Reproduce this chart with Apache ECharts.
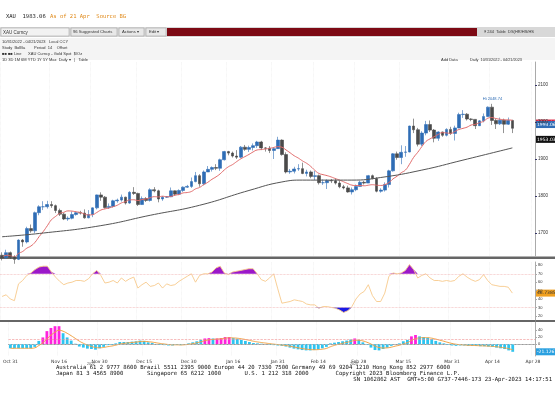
<!DOCTYPE html>
<html><head><meta charset="utf-8">
<script src="https://cdn.jsdelivr.net/npm/echarts@6/dist/echarts.min.js"></script>
<style>html,body{margin:0;padding:0;background:#fff}#c{width:555px;height:400px}</style>
</head><body><div id="c"></div>
<script>
const closes=[1633,1647,1635,1629,1681,1676,1712,1706,1755,1771,1771,1777,1774,1761,1751,1738,1740,1750,1755,1754,1741,1750,1768,1803,1797,1769,1772,1787,1789,1797,1781,1810,1807,1777,1793,1788,1817,1814,1792,1797,1798,1814,1805,1815,1824,1826,1839,1855,1833,1865,1872,1877,1875,1898,1920,1916,1908,1905,1932,1926,1931,1936,1946,1930,1929,1923,1928,1951,1912,1865,1867,1873,1874,1861,1865,1853,1855,1836,1836,1842,1841,1835,1825,1822,1811,1817,1826,1837,1835,1855,1847,1813,1816,1831,1868,1914,1904,1918,1919,1989,1979,1940,1970,1993,1978,1956,1973,1964,1980,1969,1984,2020,2021,2008,2007,1990,2003,2015,2040,2004,1995,2005,1994,2004,1983];
const highs=[1648,1655,1650,1640,1683,1684,1717,1723,1758,1775,1786,1787,1786,1777,1766,1754,1745,1758,1758,1760,1764,1762,1769,1804,1810,1800,1780,1790,1793,1804,1798,1813,1824,1809,1799,1797,1821,1824,1817,1800,1800,1823,1815,1818,1826,1830,1850,1865,1859,1869,1881,1880,1886,1901,1922,1922,1920,1924,1935,1938,1936,1942,1949,1949,1932,1935,1932,1960,1953,1918,1873,1879,1886,1890,1871,1869,1868,1858,1845,1845,1846,1848,1841,1830,1828,1823,1831,1841,1841,1857,1858,1851,1821,1837,1871,1916,1920,1937,1935,1990,2009,1984,1975,2003,2004,1981,1975,1974,1983,1987,1990,2025,2032,2024,2010,2008,2005,2023,2042,2049,2008,2012,2009,2012,2006];
const lows=[1626,1630,1630,1617,1627,1663,1672,1701,1700,1748,1762,1766,1768,1754,1746,1735,1733,1737,1747,1750,1739,1740,1743,1764,1787,1766,1765,1769,1782,1785,1777,1779,1803,1773,1776,1784,1785,1810,1783,1787,1795,1797,1801,1802,1811,1822,1822,1837,1825,1829,1865,1866,1870,1868,1896,1910,1904,1900,1902,1922,1919,1923,1930,1924,1920,1916,1900,1927,1909,1861,1860,1861,1868,1859,1853,1848,1843,1831,1830,1819,1835,1831,1821,1818,1809,1804,1813,1826,1831,1835,1845,1810,1809,1812,1823,1866,1898,1886,1906,1918,1970,1934,1935,1964,1973,1945,1949,1960,1961,1965,1950,1983,2011,2004,2002,1981,1989,1999,2013,1992,1981,1992,1970,1992,1970];
const firstOpen=1640;
const longMA={0:1690,10:1700,24:1720,36:1748,48:1775,60:1815,68:1838,73:1843,85:1843,92:1850,102:1870,112:1897,124:1930};
const rsiVals=[43,45,40,38,58,62,68,71,75,78,79,79,72,66,61,57,59,60,62,62,61,64,70,74,68,59,60,62,59,65,61,64,66,53,57,60,55,56,59,53,58,56,57,61,64,67,70,60,68,70,70,72,77,79,71,69,72,73,74,75,76,76,70,63,61,65,70,52,35,36,37,39,38,37,34,33,33,29,31,31,30,29,27,24,26,31,40,46,49,57,44,37,37,47,67,71,70,71,74,81,75,65,68,70,65,62,62,61,62,61,62,67,70,66,63,61,63,69,62,57,56,55,55,54,47];
const oscVals=[-12,-12,-12,-12,-12,-12,-8,9,19,37,46,51,51,31,19,10,1,-7,-10,-13,-14,-16,-12,-8,-3,-2,2,6,6,6,7,8,10,9,5,3,0,-2,-3,-4,-4,-2,-3,-1,2,5,8,12,16,17,16,16,17,20,20,17,15,12,9,6,3,2,1,0,-2,-3,-4,-5,-7,-10,-13,-15,-17,-18,-18,-17,-15,-12,-8,2,4,6,8,10,13,16,12,5,-2,-10,-17,-18,-14,-10,-5,0,2,8,12,22,26,22,20,18,14,9,5,2,-2,-4,-5,-4,-4,-5,-5,-5,-6,-6,-7,-8,-10,-12,-14,-18,-22];
const tickDates=['Oct 31','Nov 16','Nov 30','Dec 15','Dec 30','Jan 16','Jan 31','Feb 14','Feb 28','Mar 15','Mar 31','Apr 14','Apr 28'];
const priceTicks=[1700,1800,1900,2000,2100];
const rsiTicks=[20,30,40,50,60,70,80];
const oscTicks=[0,20,40];

const M=['Jan','Feb','Mar','Apr','May','Jun','Jul','Aug','Sep','Oct','Nov','Dec'];
const cats=[];
for(let d=new Date(Date.UTC(2022,9,31));d<=new Date(Date.UTC(2023,3,28));d.setUTCDate(d.getUTCDate()+1)){
  const w=d.getUTCDay(); if(w===0||w===6) continue;
  cats.push(M[d.getUTCMonth()]+' '+d.getUTCDate());
}
const N=closes.length;
const opens=closes.map((c,i)=>i?closes[i-1]:firstOpen);
const candle=closes.map((c,i)=>[opens[i],c,lows[i],highs[i]]);
const ma9=closes.map((c,i)=>{const s=closes.slice(Math.max(0,i-8),i+1);return +(s.reduce((a,b)=>a+b,0)/s.length).toFixed(2);});
const lma=cats.map((_,i)=>longMA[i]!==undefined?longMA[i]:null);
const rsiHi=rsiVals.map(v=>Math.max(v,70)), rsiLo=rsiVals.map(v=>Math.min(v,30));
function ema(a,n){const k=2/(n+1);const o=[];a.forEach((v,i)=>o.push(i?v*k+o[i-1]*(1-k):v));return o;}
const sig=ema(oscVals,5).map(v=>+v.toFixed(2));

const tickIdx=tickDates.map(t=>cats.indexOf(t));
const showTick=(i)=>tickIdx.indexOf(i)>=0;

const chart=echarts.init(document.getElementById('c'));
const grids=[{left:0,right:20,top:62,height:194},{left:0,right:20,top:262,height:58},{left:0,right:20,top:322,height:34}];
const xa=[0,1,2].map(g=>({type:'category',gridIndex:g,data:cats,boundaryGap:true,
  axisLine:{show:g===2,lineStyle:{color:'#999'}},axisTick:{show:false},
  axisLabel:{show:g===2,interval:(i)=>showTick(i),fontSize:4.5,color:'#333',margin:3,fontFamily:'DejaVu Sans'},
  splitLine:{show:true,interval:(i)=>showTick(i),lineStyle:{color:'#e8e8e8',type:'dotted',width:0.6}}}));
const fmt=v=>String(v);
const ya=[
 {type:'value',gridIndex:0,position:'right',min:1638,max:2162,splitLine:{show:false},axisLine:{show:true,lineStyle:{color:'#aaa'}},
  axisTick:{show:true,customValues:priceTicks,length:2,lineStyle:{color:'#336'}},axisLabel:{customValues:priceTicks,formatter:fmt,fontSize:4.5,color:'#333',margin:3}},
 {type:'value',gridIndex:1,position:'right',min:15,max:84,splitLine:{show:false},axisLine:{show:true,lineStyle:{color:'#aaa'}},
  axisTick:{show:true,customValues:rsiTicks,length:2},axisLabel:{customValues:rsiTicks,formatter:fmt,fontSize:4,color:'#333',margin:3}},
 {type:'value',gridIndex:2,position:'right',min:-34,max:63,splitLine:{show:false},axisLine:{show:true,lineStyle:{color:'#aaa'}},
  axisTick:{show:true,customValues:oscTicks,length:2},axisLabel:{customValues:oscTicks,formatter:fmt,fontSize:4,color:'#333',margin:3}}
];
chart.setOption({animation:false,backgroundColor:'#fff',grid:grids,xAxis:xa,yAxis:ya,
 series:[
  {type:'candlestick',xAxisIndex:0,yAxisIndex:0,data:candle,barWidth:3.2,
   itemStyle:{color:'#2f6db5',color0:'#4a4a4a',borderColor:'#2f6db5',borderColor0:'#4a4a4a',borderWidth:0.6}},
  {type:'line',xAxisIndex:0,yAxisIndex:0,data:ma9,symbol:'none',smooth:true,lineStyle:{color:'#e06a6a',width:1}},
  {type:'line',xAxisIndex:0,yAxisIndex:0,data:lma,symbol:'none',smooth:true,connectNulls:true,lineStyle:{color:'#555',width:1}},
  {type:'line',xAxisIndex:1,yAxisIndex:1,data:rsiHi,symbol:'none',lineStyle:{width:0},areaStyle:{color:'#9b18c9',origin:70,opacity:1}},
  {type:'line',xAxisIndex:1,yAxisIndex:1,data:rsiLo,symbol:'none',lineStyle:{width:0},areaStyle:{color:'#1a1ae6',origin:30,opacity:1}},
  {type:'line',xAxisIndex:1,yAxisIndex:1,data:rsiVals,symbol:'none',lineStyle:{color:'#f7c98b',width:0.9},
   markLine:{silent:true,symbol:'none',label:{show:false},lineStyle:{color:'#f0b0b0',type:'dotted',width:0.7},data:[{yAxis:70},{yAxis:30}]}},
  {type:'bar',xAxisIndex:2,yAxisIndex:2,data:oscVals.map((v,i)=>({value:v,itemStyle:{color:(v>15&&v>=(oscVals[i-1]||0))?'#ff22dd':'#2ec4f0'}})),barWidth:2.8,
   markLine:{silent:true,symbol:'none',label:{show:false},lineStyle:{color:'#f09090',type:'dashed',width:0.6},data:[{yAxis:15},{yAxis:0,lineStyle:{color:'#ccc',type:'dashed'}}]}},
  {type:'line',xAxisIndex:2,yAxisIndex:2,data:sig,symbol:'none',smooth:true,lineStyle:{color:'#f0a040',width:1}}
 ]});

const P=(v,g,a)=>chart.convertToPixel({xAxisIndex:g,yAxisIndex:g},[a,v])[1];
const lastI=N-1;
function tag(y,txt,bg,fg){return [{type:'rect',shape:{x:536,y:y-3.5,width:19,height:7},style:{fill:bg}},{type:'text',x:537,y:y-2.5,style:{text:txt,fontSize:4.5,fill:fg||'#fff',fontFamily:'DejaVu Sans'}}];}
const hiI=highs.indexOf(Math.max(...highs));
const hp=chart.convertToPixel({xAxisIndex:0,yAxisIndex:0},[hiI,highs[hiI]]);
const mono='DejaVu Sans Mono';
const g=[
 {type:'text',x:6,y:14,style:{text:'XAU  1983.06',fontSize:5.5,fill:'#222',fontFamily:mono}},
 {type:'text',x:50,y:14,style:{text:'As of 21 Apr  Source BG',fontSize:5.5,fill:'#e08a1a',fontFamily:mono}},
 {type:'rect',shape:{x:0,y:27,width:555,height:10},style:{fill:'#d8d8d8'}},
 {type:'rect',shape:{x:1,y:28,width:68,height:8},style:{fill:'#f2f2f2',stroke:'#999',lineWidth:0.5}},
 {type:'text',x:3,y:30,style:{text:'XAU Curncy',fontSize:4.5,fill:'#333'}},
 {type:'rect',shape:{x:71,y:28,width:46,height:8},style:{fill:'#e8e8e8',stroke:'#999',lineWidth:0.5}},
 {type:'text',x:73,y:30,style:{text:'96 Suggested Charts',fontSize:4.2,fill:'#333'}},
 {type:'rect',shape:{x:119,y:28,width:25,height:8},style:{fill:'#e8e8e8',stroke:'#999',lineWidth:0.5}},
 {type:'text',x:122,y:30,style:{text:'Actions ▾',fontSize:4.2,fill:'#333'}},
 {type:'rect',shape:{x:146,y:28,width:20,height:8},style:{fill:'#e8e8e8',stroke:'#999',lineWidth:0.5}},
 {type:'text',x:149,y:30,style:{text:'Edit ▾',fontSize:4.2,fill:'#333'}},
 {type:'rect',shape:{x:167,y:28,width:310,height:8},style:{fill:'#7d0a14'}},
 {type:'text',x:484,y:30,style:{text:'§ 244  Table  DS(HR/HS/HS',fontSize:4,fill:'#333'}},
 {type:'rect',shape:{x:0,y:38,width:555,height:22},style:{fill:'#f4f4f4'}},
 {type:'text',x:2,y:40,style:{text:'10/31/2022 - 04/21/2023   Local CCY',fontSize:4,fill:'#333'}},
 {type:'text',x:2,y:46,style:{text:'Study  BolBa        Period  14    Offset',fontSize:4,fill:'#333'}},
 {type:'text',x:2,y:52,style:{text:'■■ ■■ Line      XAU Curncy - Gold Spot  $/Oz',fontSize:4,fill:'#333'}},
 {type:'text',x:2,y:57.5,style:{text:'1D 3D 1M 6M YTD 1Y 5Y Max  Daily ▾   |   Table',fontSize:4,fill:'#333'}},
 {type:'text',x:441,y:58,style:{text:'Add Data',fontSize:4,fill:'#333'}},
 {type:'text',x:470,y:57.5,style:{text:'Daily  10/31/2022 - 04/21/2023',fontSize:3.8,fill:'#333'}},
 {type:'rect',shape:{x:0,y:256.5,width:555,height:2.5},style:{fill:'#666'}},
 {type:'rect',shape:{x:0,y:320,width:555,height:2},style:{fill:'#666'}},
 {type:'text',x:hp[0]-9,y:hp[1]-7,style:{text:'Hi 2048.74',fontSize:4,fill:'#2f6db5'}},
 ...tag(P(1997.08,0,lastI),'1997.08','#d81e3c'),
 ...tag(P(1993.06,0,lastI),'1993.06','#2f6db5'),
 ...tag(P(1953.03,0,lastI),'1953.03','#111'),
 ...tag(P(rsiVals[lastI],1,lastI),'46.7385','#f0a020','#333'),
 ...tag(P(oscVals[lastI],2,lastI),'-21.1267','#2aa0e0'),
 {type:'text',x:87,y:362,style:{text:'2022',fontSize:3.5,fill:'#555'}},
 {type:'text',x:350,y:362,style:{text:'2023',fontSize:3.5,fill:'#555'}},
 {type:'text',x:56,y:365,style:{text:'Australia 61 2 9777 8600 Brazil 5511 2395 9000 Europe 44 20 7330 7500 Germany 49 69 9204 1210 Hong Kong 852 2977 6000',fontSize:5.6,fill:'#111',fontFamily:mono}},
 {type:'text',x:56,y:371,style:{text:'Japan 81 3 4565 8900       Singapore 65 6212 1000       U.S. 1 212 318 2000        Copyright 2023 Bloomberg Finance L.P.',fontSize:5.6,fill:'#111',fontFamily:mono}},
 {type:'text',x:552,y:377,style:{text:'SN 1062862 AST  GMT+5:00 G737-7446-173 23-Apr-2023 14:17:51',fontSize:5.6,fill:'#111',fontFamily:mono,align:'right'}}
];
chart.setOption({graphic:g});
</script></body></html>
